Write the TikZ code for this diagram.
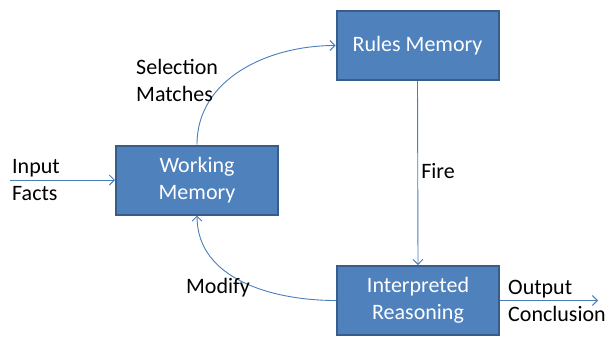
\documentclass[tikz,border=0pt]{standalone}
\usepackage{fontspec}
\setmainfont{Carlito}
\usetikzlibrary{arrows.meta}

\definecolor{boxfill}{HTML}{4F81BD}
\definecolor{boxline}{HTML}{385D8A}
\definecolor{linkcol}{HTML}{4A7EBB}

\tikzset{
  box/.style={draw=boxline, fill=boxfill, line width=2pt, text=white,
    minimum width=162, minimum height=69, inner sep=0pt, align=center,
    font=\fontsize{22}{27}\selectfont},
  link/.style={draw=linkcol, line width=0.9pt, -{Straight Barb[length=5pt,width=10pt]}},
  lbl/.style={inner sep=0pt, align=left, font=\fontsize{22}{27}\selectfont}
}

\begin{document}
\begin{tikzpicture}[x=1pt, y=-1pt]

  %% ════ 方框 ════
  \node[box] (rules) at (417.5,45.5)  {Rules Memory};
  \node[box] (wm)    at (197.0,180.0) {Working\\Memory};
  \node[box] (ir)    at (418.0,300.5) {Interpreted\\Reasoning};

  %% ════ 端点 ════
  \coordinate (inpt) at (10,180);
  \coordinate (outp) at (598,300.5);

  %% ════ 连线 ════
  \draw[link] (inpt) -- (wm.west);
  \draw[link] (wm.north) to[out=90,in=180] (rules.west);
  \draw[link] (rules.south) -- (ir.north);
  \draw[link] (ir.west) to[out=180,in=-90] (wm.south);
  \draw[link] (ir.east) -- (outp);

  %% ════ 标签 ════
  \node[lbl, anchor=west] (lin)  at (12,180)    {Input\\Facts};
  \node[lbl, anchor=west] (lsel) at (136,80)    {Selection\\Matches};
  \node[lbl]              (lfir) at (438,171)   {Fire};
  \node[lbl]              (lmod) at (218,288)   {Modify};
  \node[lbl, anchor=west] (lout) at (508,300.5) {Output\\Conclusion};

  % 钉死画布
  \pgfresetboundingbox
  \path[use as bounding box] (0,0) rectangle (608,338);
\end{tikzpicture}
\end{document}
